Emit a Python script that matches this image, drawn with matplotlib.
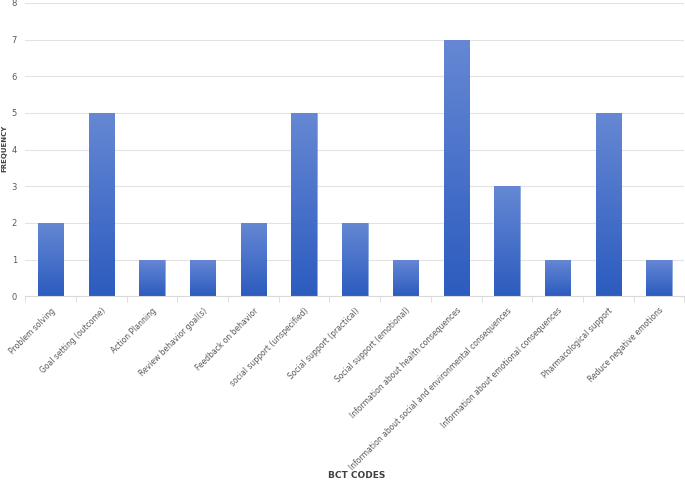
import numpy as np
import matplotlib.pyplot as plt
from matplotlib.colors import LinearSegmentedColormap

# Data
categories = ['Problem solving', 'Goal setting (outcome)', 'Action Planning',
              'Review behavior goal(s)', 'Feedback on behavior',
              'social support (unspecified)', 'Social support (practical)',
              'Social support (emotional)', 'Information about health consequences',
              'Information about social and environmental consequences',
              'Information about emotional consequences',
              'Pharmacological support', 'Reduce negative emotions']
frequency = [2, 5, 1, 1, 2, 5, 2, 1, 7, 3, 1, 5, 1]

txt_color = '#595959'
grad = LinearSegmentedColormap.from_list('bar', ['#2c5cbf', '#6688d4'])

fig = plt.figure(figsize=(6.85, 4.88), dpi=100)
ax = fig.add_axes([0.037, 0.393, 0.962, 0.601])

x = np.arange(len(categories))
bars = ax.bar(x, frequency, width=0.5, color='#3f6cc9', edgecolor='#8fa9e0',
              linewidth=0.6, zorder=2)

# vertical gradient inside each bar
g = np.linspace(0, 1, 256).reshape(-1, 1)
for b in bars:
    x0 = b.get_x()
    w = b.get_width()
    h = b.get_height()
    im = ax.imshow(g, cmap=grad, origin='lower', aspect='auto',
                   extent=[x0, x0 + w, 0, h], zorder=2.5)
    im.set_clip_path(b)

ax.set_xlim(-0.5, len(categories) - 0.5)
ax.set_ylim(0, 8)
ax.set_yticks(range(0, 9))
ax.yaxis.grid(True, color='#e3e3e3', linewidth=0.8, zorder=0)
ax.set_axisbelow(True)

for s in ['top', 'right', 'left']:
    ax.spines[s].set_visible(False)
ax.spines['bottom'].set_color('#d9d9d9')

ax.set_xticks(x)
ax.set_xticklabels(categories, rotation=45, ha='right', rotation_mode='anchor',
                   fontsize=5.5, color=txt_color)
ax.tick_params(axis='x', length=0, pad=7)
ax.set_xticks(np.arange(-0.5, len(categories)), minor=True)
ax.tick_params(axis='x', which='minor', length=4, color='#d9d9d9')
ax.tick_params(axis='y', length=0, labelsize=6, labelcolor=txt_color, pad=6)

fig.text(0.006, 0.695, 'FREQUENCY', rotation=90, ha='center', va='center',
         fontsize=5, fontweight='bold', color='#404040')
fig.text(0.52, 0.02, 'BCT CODES', ha='center', fontsize=6.5, fontweight='bold',
         color='#404040')

fig.savefig('out.png', dpi=100)
